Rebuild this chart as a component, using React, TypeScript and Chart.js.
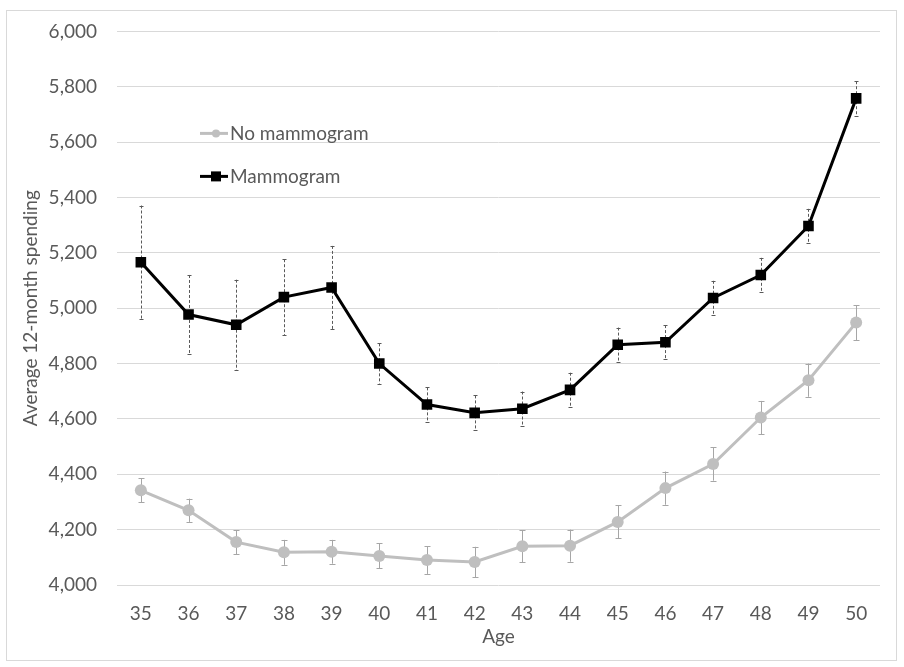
import React, { useEffect, useRef } from "react";
import { Chart, registerables } from "chart.js";

Chart.register(...registerables);

const ages = ["35","36","37","38","39","40","41","42","43","44","45","46","47","48","49","50"];
const noMammogram = [4342,4270,4155,4118,4120,4105,4090,4083,4140,4142,4228,4350,4437,4605,4740,4948];
const noMammogramErr = [43,42,43,45,43,45,50,55,57,58,60,60,60,60,60,63];
const mammogram = [5166,4977,4940,5040,5075,4800,4652,4622,4637,4705,4868,4877,5037,5120,5297,5758];
const mammogramErr = [205,143,163,137,150,73,62,63,62,62,62,62,62,62,62,62];
const yTicks = { min: 4000, max: 6000, step: 200 };
const seriesNames = ["No mammogram", "Mammogram"];
const xTitle = "Age";
const yTitle = "Average 12-month spending";

const FONT = "Lato, 'Open Sans', sans-serif";
const TEXT = "#595959";
const GRAY = "#bfbfbf";

const errorBars = {
  id: "errorBars",
  beforeDatasetsDraw(chart: any) {
    const { ctx, scales } = chart;
    const x = scales.x, y = scales.y;
    const draw = (vals: number[], errs: number[], color: string, dash: number[], cap: number) => {
      ctx.save();
      ctx.strokeStyle = color;
      ctx.lineWidth = 1;
      for (let i = 0; i < vals.length; i++) {
        const px = Math.round(x.getPixelForValue(i)) + 0.5;
        const top = y.getPixelForValue(vals[i] + errs[i]);
        const bot = y.getPixelForValue(vals[i] - errs[i]);
        ctx.setLineDash(dash);
        ctx.beginPath();
        ctx.moveTo(px, top);
        ctx.lineTo(px, bot);
        ctx.stroke();
        ctx.setLineDash([]);
        ctx.beginPath();
        ctx.moveTo(px - cap, Math.round(top) + 0.5);
        ctx.lineTo(px + cap, Math.round(top) + 0.5);
        ctx.moveTo(px - cap, Math.round(bot) + 0.5);
        ctx.lineTo(px + cap, Math.round(bot) + 0.5);
        ctx.stroke();
      }
      ctx.restore();
    };
    draw(noMammogram, noMammogramErr, "#a6a6a6", [], 3);
    draw(mammogram, mammogramErr, "#595959", [3, 2], 2);
  },
};

const frameAndLegend = {
  id: "frameAndLegend",
  afterDraw(chart: any) {
    const { ctx, chartArea } = chart;
    ctx.save();
    ctx.strokeStyle = "#d9d9d9";
    ctx.lineWidth = 1;
    ctx.strokeRect(6.5, 10.5, 890, 650);
    const lx = chartArea.left + 83;
    const items = [
      { name: seriesNames[0], color: GRAY, marker: "circle", y: chartArea.top + 102 },
      { name: seriesNames[1], color: "#000000", marker: "square", y: chartArea.top + 145 },
    ];
    for (const it of items) {
      ctx.strokeStyle = it.color;
      ctx.lineWidth = 3;
      ctx.beginPath();
      ctx.moveTo(lx, it.y);
      ctx.lineTo(lx + 28, it.y);
      ctx.stroke();
      ctx.fillStyle = it.color;
      if (it.marker === "circle") {
        ctx.beginPath();
        ctx.arc(lx + 16, it.y, 4, 0, Math.PI * 2);
        ctx.fill();
      } else {
        ctx.fillRect(lx + 11, it.y - 5, 10, 10);
      }
      ctx.fillStyle = TEXT;
      ctx.font = `19px ${FONT}`;
      ctx.textBaseline = "middle";
      ctx.textAlign = "left";
      ctx.fillText(it.name, lx + 30, it.y);
    }
    ctx.restore();
  },
};

export default function App() {
  const ref = useRef<HTMLCanvasElement>(null);
  useEffect(() => {
    if (!ref.current) return;
    const chart = new Chart(ref.current, {
      type: "line",
      data: {
        labels: ages,
        datasets: [
          {
            label: seriesNames[0],
            data: noMammogram,
            borderColor: GRAY,
            backgroundColor: GRAY,
            borderWidth: 3,
            pointStyle: "circle",
            pointRadius: 6,
            pointBorderWidth: 0,
            tension: 0,
          },
          {
            label: seriesNames[1],
            data: mammogram,
            borderColor: "#000000",
            backgroundColor: "#000000",
            borderWidth: 3,
            pointStyle: "rect",
            pointRadius: 7.5,
            pointBorderWidth: 0,
            tension: 0,
          },
        ],
      },
      options: {
        responsive: false,
        animation: false,
        layout: { padding: { left: 0, right: 24, top: 31, bottom: 0 } },
        plugins: { legend: { display: false }, tooltip: { enabled: false } },
        scales: {
          x: {
            offset: true,
            grid: { display: false, drawTicks: false },
            border: { display: false },
            ticks: { color: TEXT, font: { family: FONT, size: 19 }, padding: 17, maxRotation: 0 },
            title: { display: true, text: xTitle, color: TEXT, font: { family: FONT, size: 19 }, padding: { top: 0, bottom: 19 } },
            afterFit(scale: any) { scale.height = 82; },
          },
          y: {
            min: yTicks.min,
            max: yTicks.max,
            ticks: {
              stepSize: yTicks.step,
              color: TEXT,
              font: { family: FONT, size: 19 },
              padding: 20,
              callback: (v: any) => Number(v).toLocaleString("en-US"),
            },
            grid: { color: "#d9d9d9", lineWidth: 1, drawTicks: false },
            border: { display: false },
            title: { display: true, text: yTitle, color: TEXT, font: { family: FONT, size: 19 }, padding: { top: 19, bottom: 0 } },
            afterFit(scale: any) { scale.width = 117; },
          },
        },
      },
      plugins: [errorBars, frameAndLegend],
    });
    return () => chart.destroy();
  }, []);
  return (
    <div style={{ position: "absolute", left: 0, top: 0, width: 904, height: 667, background: "#fff" }}>
      <canvas ref={ref} width={904} height={667} />
    </div>
  );
}
